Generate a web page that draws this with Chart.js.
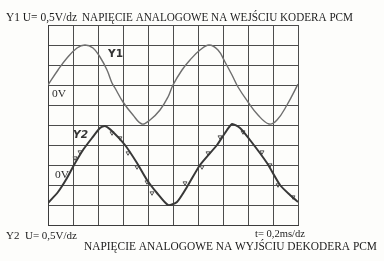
<!DOCTYPE html>
<html>
<head>
<meta charset="utf-8">
<script src="https://cdn.jsdelivr.net/npm/chart.js@4.4.1/dist/chart.umd.min.js"></script>
<style>
html, body { margin: 0; padding: 0; background: #fdfdfb; }
#wrap { width: 384px; height: 261px; }
</style>
</head>
<body>
<div id="wrap"><canvas id="scope"></canvas></div>
<script>
const y1Time = [0, 0.08, 0.152, 0.232, 0.296, 0.36, 0.416, 0.472, 0.512, 0.536, 0.6, 0.68, 0.752, 0.816, 0.896, 0.96,
    1.0, 1.072, 1.136, 1.216, 1.288, 1.36, 1.416, 1.472, 1.52, 1.6, 1.68, 1.768, 1.832, 1.912, 2.0];
const y1Volt = [0, 0.375, 0.675, 0.925, 1.0, 0.925, 0.7, 0.375, 0.05, -0.075, -0.425, -0.75, -0.975, -0.875, -0.625, -0.3,
    0, 0.375, 0.625, 0.875, 1.0, 0.875, 0.575, 0.25, -0.05, -0.425, -0.75, -0.975, -0.875, -0.5, 0.02];

const y2Time = [0, 0.08, 0.152, 0.208, 0.28, 0.352, 0.416, 0.456, 0.52, 0.616, 0.712, 0.792, 0.872, 0.96,
    1.032, 1.112, 1.216, 1.352, 1.416, 1.472, 1.536, 1.616, 1.752, 1.856, 1.936, 2.0];
const y2Volt = [-0.95, -0.675, -0.325, 0, 0.375, 0.675, 0.925, 0.975, 0.825, 0.5, 0.05, -0.375, -0.7, -1.0,
    -0.925, -0.55, 0, 0.5, 0.8, 1.025, 0.925, 0.625, 0.05, -0.5, -0.75, -0.925];

// drobne schodki / zakłócenia na sygnale z dekodera
const y2MarkTime = [0.216, 0.256, 0.512, 0.576, 0.64, 0.712, 0.792, 0.832, 1.096, 1.232, 1.28, 1.376, 1.56, 1.712, 1.776, 1.84, 1.96];
const y2MarkVolt = [0.175, 0.325, 0.8, 0.675, 0.3, -0.05, -0.425, -0.7, -0.45, -0.05, 0.3, 0.7, 0.825, 0.325, 0, -0.5, -0.8];

const voltsPerDiv = 0.5;   // U = 0,5 V/dz
const y1ZeroDiv = 2;       // położenie 0V kanału Y1 (w działkach)
const y2ZeroDiv = -2;      // położenie 0V kanału Y2

const toPoints = (times, volts, zero) => times.map((t, i) => ({ x: t, y: volts[i] / voltsPerDiv + zero }));

// fillText zwężony do zadanej szerokości (skan ma węższy krój)
function fitText(ctx, txt, x, y, w, font) {
    ctx.font = font;
    const m = ctx.measureText(txt).width;
    ctx.save();
    ctx.translate(x, y);
    ctx.scale(w / m, 1);
    ctx.fillText(txt, 0, 0);
    ctx.restore();
}

const labelsPlugin = {
    id: 'scopeLabels',
    afterDraw(chart) {
        const ctx = chart.ctx;
        ctx.save();
        ctx.fillStyle = '#1c1c1c';
        ctx.textBaseline = 'alphabetic';
        const serif = '"Liberation Serif", "DejaVu Serif", serif';
        fitText(ctx, 'Y1 U= 0,5V/dz', 6, 21, 71, '12px ' + serif);
        fitText(ctx, 'NAPIĘCIE ANALOGOWE NA WEJŚCIU KODERA PCM', 82, 21, 271, '12px ' + serif);
        fitText(ctx, 'Y2  U= 0,5V/dz', 6, 239, 71, '11px ' + serif);
        fitText(ctx, 't= 0,2ms/dz', 255, 237, 50, '11px ' + serif);
        fitText(ctx, 'NAPIĘCIE ANALOGOWE NA WYJŚCIU DEKODERA PCM', 84, 250, 293, '12.5px ' + serif);

        ctx.fillStyle = '#2a2a2a';
        fitText(ctx, '0V', 52, 97, 14, '11px ' + serif);
        fitText(ctx, '0V', 55, 178, 14, '11px ' + serif);
        ctx.fillStyle = '#333';
        fitText(ctx, 'Y1', 108, 57, 15, 'bold 11px "DejaVu Sans", sans-serif');
        fitText(ctx, 'Y2', 73, 138, 15, 'italic bold 11px "DejaVu Sans", sans-serif');
        ctx.restore();
    }
};

const bgPlugin = {
    id: 'paper',
    beforeDraw(chart) {
        const ctx = chart.ctx;
        ctx.save();
        ctx.fillStyle = '#fdfdfb';
        ctx.fillRect(0, 0, chart.width, chart.height);
        ctx.restore();
    }
};

new Chart(document.getElementById('scope'), {
    type: 'line',
    data: {
        datasets: [{
            label: 'Y1',
            data: toPoints(y1Time, y1Volt, y1ZeroDiv),
            borderColor: '#6e6e6e',
            borderWidth: 1.4,
            pointRadius: 0,
            tension: 0.4
        }, {
            label: 'Y2',
            data: toPoints(y2Time, y2Volt, y2ZeroDiv),
            borderColor: '#383838',
            borderWidth: 2,
            pointRadius: 0,
            tension: 0.2
        }, {
            label: 'Y2 schodki',
            data: toPoints(y2MarkTime, y2MarkVolt, y2ZeroDiv),
            showLine: false,
            pointStyle: 'triangle',
            rotation: 180,
            pointRadius: 2.3,
            pointBorderWidth: 1,
            pointBorderColor: '#555',
            pointBackgroundColor: 'rgba(0,0,0,0)'
        }]
    },
    options: {
        responsive: true,
        maintainAspectRatio: false,
        animation: false,
        layout: { padding: { left: 48, right: 86, top: 25, bottom: 36 } },
        plugins: { legend: { display: false }, tooltip: { enabled: false } },
        scales: {
            x: {
                type: 'linear', min: 0, max: 2,
                ticks: { display: false, stepSize: 0.2 },
                grid: { color: '#4c4c4c', lineWidth: 1, drawTicks: false },
                border: { color: '#3c3c3c' }
            },
            y: {
                min: -5, max: 5,
                ticks: { display: false, stepSize: 1 },
                grid: { color: '#4c4c4c', lineWidth: 1, drawTicks: false },
                border: { color: '#3c3c3c' }
            }
        }
    },
    plugins: [bgPlugin, labelsPlugin]
});
</script>
</body>
</html>
